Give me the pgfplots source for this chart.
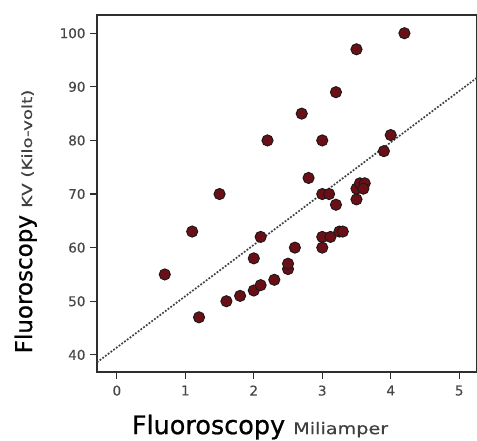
\documentclass[border=0pt]{standalone}
\usepackage{pgfplots}
\pgfplotsset{compat=1.18}
\usepackage{fontspec}
\usepackage{graphicx}
\setmainfont{DejaVu Sans}
\newfontfamily\heavy[FakeBold=0.8]{DejaVu Sans}
\newfontfamily\semi[FakeBold=0.4]{DejaVu Sans}
\definecolor{dotred}{HTML}{6B0F16}
\definecolor{frame}{HTML}{2E2E2E}
\begin{document}
\begin{tikzpicture}
\path[use as bounding box] (-97pt,-69pt) rectangle (380pt,372pt);
\begin{axis}[
  scale only axis,
  width=380pt, height=357pt,
  at={(0,0)}, anchor=south west,
  xmin=-0.29, xmax=5.26,
  ymin=36.8, ymax=103.4,
  xtick={0,1,2,3,4,5},
  ytick={40,50,60,70,80,90,100},
  tick align=outside,
  tick pos=left,
  major tick length=7pt,
  axis line style={frame, line width=1.4pt},
  every tick/.style={frame, line width=1.2pt},
  /pgf/number format/assume math mode=true,
  tick label style={font=\semi\fontsize{13.5}{14}\selectfont, text=black!72},
  xticklabel style={yshift=-3pt},
  yticklabel style={xshift=-1pt},
  xlabel={\heavy\fontsize{25.5}{26}\selectfont Fluoroscopy\ \scalebox{1.2}[1]{\semi\fontsize{16}{17}\selectfont\color{black!75}Miliamper}},
  ylabel={\heavy\fontsize{23}{24}\selectfont Fluoroscopy\ \scalebox{1.3}[1]{\semi\fontsize{14}{15}\selectfont\color{black!75}KV (Kilo-volt)}},
  xlabel style={at={(axis description cs:0.429,-0.174)}, anchor=base},
  ylabel style={at={(axis description cs:-0.171,0.4216)}, anchor=base, rotate=0},
  clip=false,
]
\addplot[black!75, line width=1.7pt, dash pattern=on 1.8pt off 1.6pt] coordinates {(-0.29,38.6) (5.26,91.7)};
\addplot[only marks, mark=*, mark size=5.6pt, mark options={fill=dotred, draw=black!90, line width=0.9pt}] coordinates {
(0.7,55) (1.1,63) (1.2,47) (1.5,70) (1.6,50) (1.8,51) (2.0,52) (2.1,53)
(2.0,58) (2.1,62) (2.2,80) (2.3,54) (2.5,56) (2.5,57) (2.6,60) (2.7,85)
(2.8,73) (3.0,80) (3.0,70) (3.1,70) (3.2,68) (3.0,60) (3.0,62) (3.12,62)
(3.25,63) (3.3,63) (3.2,89) (3.5,97) (3.5,69) (3.5,71) (3.55,72) (3.62,72)
(3.6,71) (3.9,78) (4.0,81) (4.2,100)
};
\end{axis}
\end{tikzpicture}
\end{document}
